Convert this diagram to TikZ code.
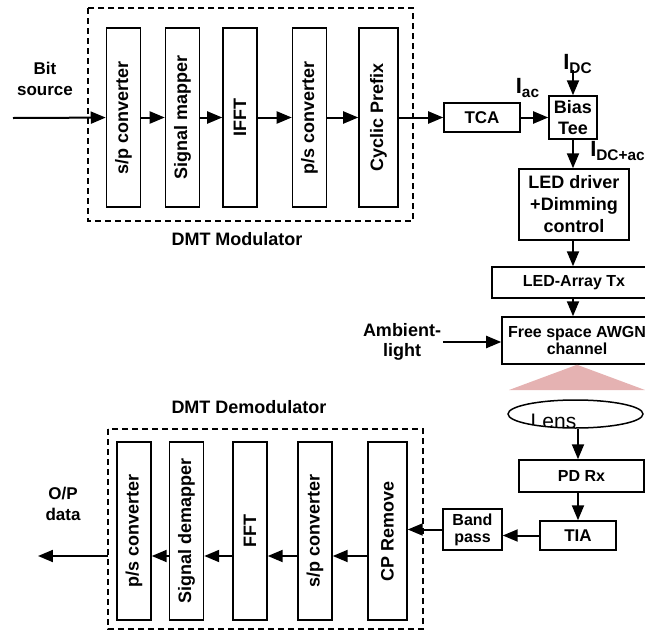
\documentclass[tikz,border=0pt]{standalone}
\usepackage{fontspec}
\setmainfont{Liberation Sans}
\usetikzlibrary{arrows.meta,shapes.geometric,positioning}
\definecolor{beam}{RGB}{229,178,178}
\newcommand{\blkfont}[2]{\bfseries\fontsize{#1pt}{#2pt}\selectfont}

\begin{document}
\begin{tikzpicture}[x=0.5pt,y=-0.5pt,
  font=\blkfont{9}{10.5},
  blk/.style={draw,line width=0.75pt,align=center,inner sep=1pt},
  vblk/.style={blk,minimum height=89.5pt,font=\blkfont{9}{10}},
  dashbox/.style={draw,line width=0.6pt,dash pattern=on 3pt off 2pt},
  arr/.style={line width=1pt,-{Triangle[length=7.5pt,width=6pt]}},
  lbl/.style={align=center,inner sep=0pt}]

\useasboundingbox (0,0) rectangle (645,633);
\clip (0,0) rectangle (645,633);

%modulator
  \foreach \nm/\xc/\w/\txt in {sp1/123.5/17pt/{s/p converter}, map/182.5/17pt/{Signal mapper},
      ifft/240/17pt/IFFT, ps1/309.5/17pt/{p/s converter}, cp/378.5/19.5pt/{Cyclic Prefix}}
    \node[vblk,minimum width=\w] (\nm) at (\xc,117.5) {\rotatebox{90}{\txt}};
  \draw[dashbox] (88,8) rectangle (413,221);
  \node[lbl] (modlbl) at (237,239) {DMT Modulator};

  \node[lbl,font=\blkfont{8.5}{10.5}] (bitsrc) at (45,79) {Bit\\source};
  \coordinate (bitin) at (13,118);
  \draw[arr] (bitin) -- (sp1);
  \foreach \a/\b in {sp1/map, map/ifft, ifft/ps1, ps1/cp}
    \draw[arr] (\a) -- (\b);

%transmitter chain
  \node[blk,minimum width=38pt,minimum height=14.5pt,font=\blkfont{8.5}{10}] (tca) at (482,117.5) {TCA};
  \node[blk,minimum width=24pt,minimum height=21.5pt,font=\blkfont{9}{10.5}] (bias) at (573,117.5) {Bias\\Tee};
  \node[blk,minimum width=55pt,minimum height=35.5pt,font=\blkfont{9}{11}] (led) at (574,204.5) {LED driver\\+Dimming\\control};
  \node[blk,minimum width=82pt,minimum height=15.5pt,font=\blkfont{8}{9}] (array) at (574,282.5) {LED-Array Tx};
  \node[blk,minimum width=75pt,minimum height=23.5pt,font=\blkfont{8}{8.5}] (free) at (577,340.5) {Free space AWGN\\channel};

  \draw[arr] (cp) -- (tca);
  \draw[arr] (tca) -- (bias);
  \coordinate (idc) at (573,70);
  \draw[arr] (idc) -- (bias);
  \draw[arr] (bias) -- (bias |- led.north);
  \draw[arr] (led.south -| bias) -- (bias |- array.north);
  \draw[arr] (array.south -| bias) -- (bias |- free.north);

  \node[lbl,font=\blkfont{11}{12}] (iac) at (528,88) {I\textsubscript{ac}};
  \node[lbl,font=\blkfont{11}{12}] (idclbl) at (578,64) {I\textsubscript{DC}};
  \node[lbl,font=\blkfont{11}{12}] (idcac) at (618,151) {I\textsubscript{DC+ac}};

  \node[lbl,font=\blkfont{9}{10}] (amblbl) at (402,342) {Ambient-\\light};
  \coordinate (amb) at (443,342);
  \draw[arr] (amb) -- (amb -| free.west);

%optical link
  \fill[beam] (free.south) -- (645,390) -- (509,390) -- cycle;
  \node[draw,ellipse,line width=0.75pt,minimum width=67.5pt,minimum height=14pt,inner sep=0pt,
    path picture={\node[font=\normalfont\fontsize{10.5}{12}\selectfont,inner sep=0pt] (lenstxt)
      at ([xshift=-11pt,yshift=-3.5pt]path picture bounding box.center) {Lens};}] (lens) at (575.5,414) {};

%receiver chain
  \node[blk,minimum width=62.5pt,minimum height=16pt,font=\blkfont{8}{9}] (pd) at (581.5,476) {PD Rx};
  \node[blk,minimum width=38pt,minimum height=14.5pt,font=\blkfont{8.5}{10}] (tia) at (578,535.5) {TIA};
  \node[blk,minimum width=29.5pt,minimum height=20.5pt,font=\blkfont{8}{8.5}] (band) at (472.5,529.5) {Band\\pass};

  \draw[arr] (lens.south -| tia) -- (tia |- pd.north);
  \draw[arr] (pd.south -| tia) -- (tia.north);
  \draw[arr] (tia.west) -- (tia.west -| band.east);

%demodulator
  \foreach \nm/\xc/\w/\txt in {cprm/387.5/19.5pt/{CP Remove}, sp2/315/17pt/{s/p converter},
      fft/250/17pt/FFT, demap/186.5/17pt/{Signal demapper}, ps2/134/17pt/{p/s converter}}
    \node[vblk,minimum width=\w,minimum height=89pt] (\nm) at (\xc,531) {\rotatebox{90}{\txt}};
  \draw[dashbox] (108,429) rectangle (423,629);
  \node[lbl] (demodlbl) at (249,407) {DMT Demodulator};

  \draw[arr] (band.west) -- (band.west -| cprm.east);
  \coordinate (dline) at (0,556);
  \foreach \a/\b in {cprm/sp2, sp2/fft, fft/demap, demap/ps2}
    \draw[arr] (\a.west |- dline) -- (\b.east |- dline);

  \node[lbl,font=\blkfont{8.5}{10.5}] (oplbl) at (63,503.5) {O/P\\data};
  \coordinate (dmleft) at (108,556);
  \coordinate (out) at (38,556);
  \draw[arr] (dmleft) -- (out);

\end{tikzpicture}
\end{document}
